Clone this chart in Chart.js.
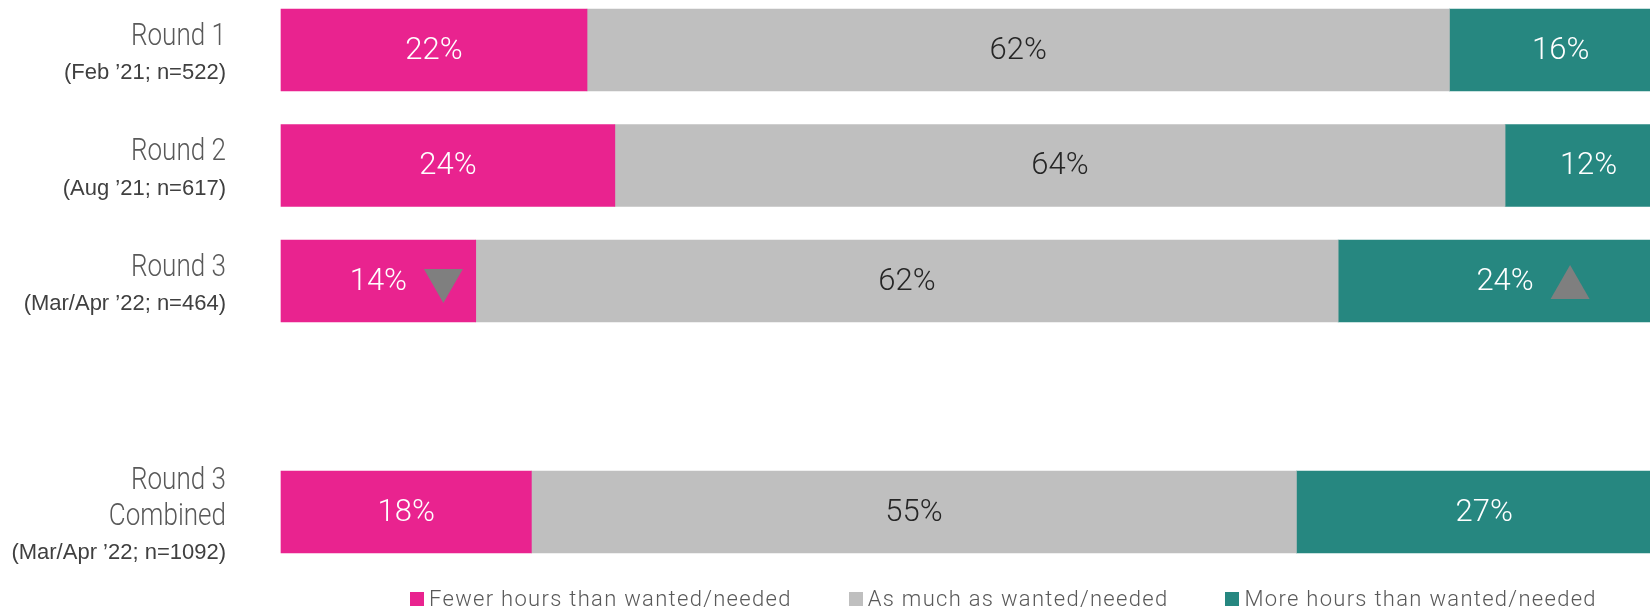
<!DOCTYPE html>
<html>
<head>
<meta charset="utf-8">
<title>Hours worked vs wanted</title>
<script src="https://cdn.jsdelivr.net/npm/chart.js@4.4.0/dist/chart.umd.min.js"></script>
<style>
html, body { margin: 0; padding: 0; background: #fff; overflow: hidden; width: 1650px; height: 610px; }
#wrap { position: absolute; left: 0; top: 0; width: 1672px; height: 610px; }
#legend { position: absolute; left: 410px; top: 588px; display: flex; gap: 57px; margin: 0; padding: 0; list-style: none;
  font-family: Roboto, sans-serif; font-weight: 300; font-size: 22px; letter-spacing: 1.3px; color: #595959; line-height: 22px; }
#legend li { display: flex; align-items: center; white-space: nowrap; }
#legend .box { display: inline-block; width: 14px; height: 14px; margin-right: 5px; }
</style>
</head>
<body>
<div id="wrap"><canvas id="hours-chart"></canvas></div>
<ul id="legend"></ul>
<script>
// rows of the chart, the empty one just spaces out the combined sample
var rowTitles = [['Round 1'], ['Round 2'], ['Round 3'], [], ['Round 3', 'Combined']];
var rowNotes = ['(Feb \u201921; n=522)', '(Aug \u201921; n=617)', '(Mar/Apr \u201922; n=464)', '', '(Mar/Apr \u201922; n=1092)'];

var seriesNames = ['Fewer hours than wanted/needed', 'As much as wanted/needed', 'More hours than wanted/needed'];
var fewer = [22, 24, 14, null, 18];
var asMuch = [62, 64, 62, null, 55];
var more = [16, 12, 24, null, 27];

// significant change vs previous round: -1 down, 1 up
var fewerSig = [0, 0, -1, 0, 0];
var asMuchSig = [0, 0, 0, 0, 0];
var moreSig = [0, 0, 1, 0, 0];

var colors = {
    pink: '#E9238F',
    grey: '#BFBFBF',
    teal: '#268780',
    marker: '#7F7F7F'
};

var labels = rowTitles.map(function (t, i) { return t.join(' ') + (rowNotes[i] ? ' ' + rowNotes[i] : ''); });

function makeSet(name, values, sig, color, textColor) {
    return {
        label: name,
        data: values,
        backgroundColor: color,
        borderWidth: 0,
        barThickness: 82,
        clip: false,
        sig: sig,
        textColor: textColor
    };
}

// row titles drawn next to each bar, two fonts per row
var rowLabels = {
    id: 'rowLabels',
    afterDraw: function (chart) {
        var ctx = chart.ctx;
        var yScale = chart.scales.y;
        var right = 226;
        var step = 36;
        ctx.save();
        ctx.textAlign = 'right';
        ctx.textBaseline = 'middle';
        for (var i = 0; i < rowTitles.length; i++) {
            var lines = rowTitles[i].slice();
            if (rowNotes[i]) lines.push(rowNotes[i]);
            if (!lines.length) continue;
            var cy = yScale.getPixelForValue(i) + 5;
            var y = cy - (lines.length - 1) * step / 2;
            for (var j = 0; j < lines.length; j++) {
                var isNote = rowNotes[i] && j === lines.length - 1;
                ctx.save();
                ctx.translate(right, y + j * step);
                if (isNote) {
                    ctx.font = '22px "Liberation Sans", Arial, sans-serif';
                    ctx.fillStyle = '#404040';
                } else {
                    ctx.scale(0.84, 1);
                    ctx.font = '300 31px Roboto, sans-serif';
                    ctx.fillStyle = '#595959';
                }
                ctx.fillText(lines[j], 0, 0);
                ctx.restore();
            }
        }
        ctx.restore();
    }
};

// percent labels inside segments plus the up/down markers
var segmentLabels = {
    id: 'segmentLabels',
    afterDatasetsDraw: function (chart) {
        var ctx = chart.ctx;
        ctx.save();
        ctx.font = '300 31px Roboto, sans-serif';
        ctx.textAlign = 'center';
        ctx.textBaseline = 'middle';
        chart.data.datasets.forEach(function (ds, d) {
            var meta = chart.getDatasetMeta(d);
            meta.data.forEach(function (bar, i) {
                var v = ds.data[i];
                if (v === null || v === undefined) return;
                var cx = (bar.x + bar.base) / 2;
                ctx.fillStyle = ds.textColor;
                ctx.fillText(v + '%', cx, bar.y + 1);
                var s = ds.sig[i];
                if (s) {
                    var mx = cx + 65, w = 39, h = 34;
                    ctx.fillStyle = colors.marker;
                    ctx.beginPath();
                    if (s < 0) {
                        ctx.moveTo(mx - w / 2, bar.y - 12);
                        ctx.lineTo(mx + w / 2, bar.y - 12);
                        ctx.lineTo(mx, bar.y - 12 + h);
                    } else {
                        ctx.moveTo(mx - w / 2, bar.y + 18);
                        ctx.lineTo(mx + w / 2, bar.y + 18);
                        ctx.lineTo(mx, bar.y + 18 - h);
                    }
                    ctx.closePath();
                    ctx.fill();
                }
            });
        });
        ctx.restore();
    }
};

var config = {
    type: 'bar',
    data: {
        labels: labels,
        datasets: [
            makeSet(seriesNames[0], fewer, fewerSig, colors.pink, '#FFFFFF'),
            makeSet(seriesNames[1], asMuch, asMuchSig, colors.grey, '#262626'),
            makeSet(seriesNames[2], more, moreSig, colors.teal, '#FFFFFF')
        ]
    },
    options: {
        indexAxis: 'y',
        responsive: true,
        maintainAspectRatio: false,
        animation: false,
        layout: { padding: { left: 281, right: 0, top: 50, bottom: 98 } },
        scales: {
            x: { stacked: true, min: 0, max: 100, display: false },
            y: { stacked: true, offset: false, display: false }
        },
        plugins: {
            legend: { display: false },
            tooltip: { enabled: false }
        }
    },
    plugins: [rowLabels, segmentLabels]
};

var chart = new Chart(document.getElementById('hours-chart'), config);

// html legend built from the datasets
var legendEl = document.getElementById('legend');
chart.data.datasets.forEach(function (ds) {
    var li = document.createElement('li');
    var box = document.createElement('span');
    box.className = 'box';
    box.style.background = ds.backgroundColor;
    li.appendChild(box);
    li.appendChild(document.createTextNode(ds.label));
    legendEl.appendChild(li);
});
</script>
</body>
</html>
